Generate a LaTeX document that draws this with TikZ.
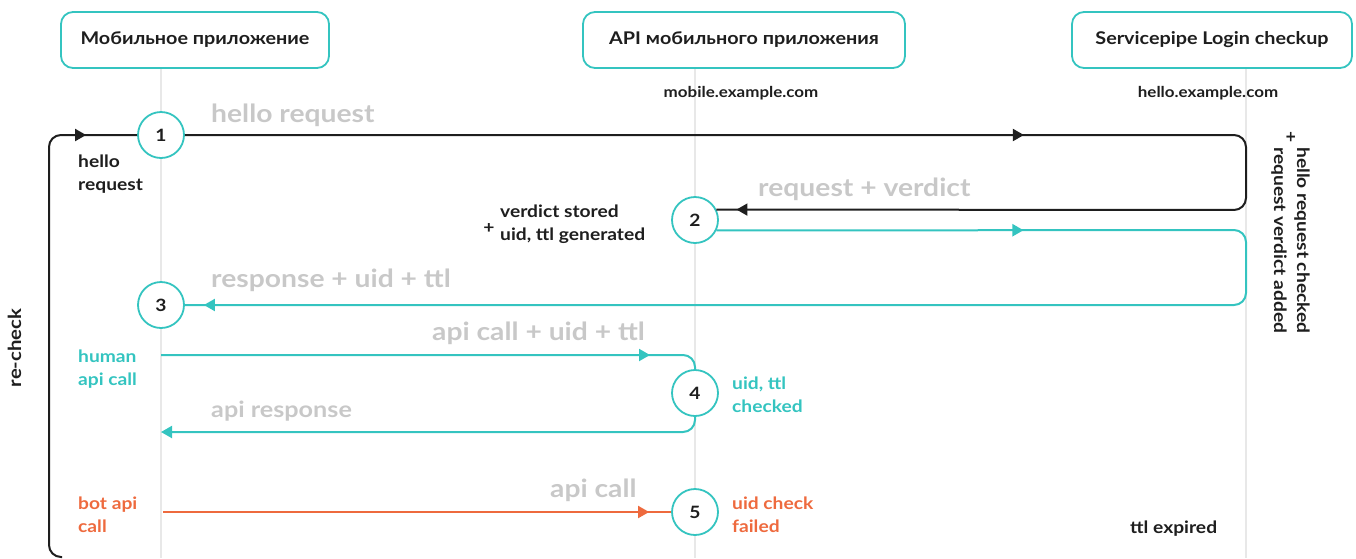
\documentclass[tikz,border=0pt]{standalone}
\usepackage{fontspec}
\setmainfont{Lato}[FakeStretch=1.13]
\usetikzlibrary{arrows.meta,decorations.markings}
\definecolor{tealc}{RGB}{52,196,192}
\definecolor{orangec}{RGB}{238,106,62}
\definecolor{labelgray}{RGB}{200,200,200}
\definecolor{inkc}{RGB}{30,30,30}
\definecolor{lifec}{RGB}{232,232,232}
\tikzset{
  box/.style={draw=tealc, line width=1.8pt, rounded corners=12pt, fill=white,
    minimum width=#1, minimum height=56pt, inner sep=0pt,
    font=\fontsize{17.5}{21}\selectfont\bfseries, text=inkc},
  num/.style={circle, draw=tealc, line width=1.8pt, fill=white,
    minimum size=46pt, inner sep=0pt, font=\fontsize{17}{20}\selectfont\bfseries, text=inkc},
  lifeline/.style={draw=lifec, line width=1.6pt},
  flow/.style={line width=2pt, rounded corners=12pt},
  tipat/.style={postaction={decorate, decoration={markings,
    mark=at position #1 with {\arrow{Triangle[length=11pt,width=12pt]}}}}},
  msg/.style={anchor=base west, inner sep=0pt, text=labelgray,
    font=\fontsize{25}{28}\selectfont\bfseries},
  note/.style={anchor=base west, inner sep=0pt, align=left,
    font=\fontsize{17}{23}\selectfont\bfseries},
  plus/.style={inner sep=0pt, anchor=base, text=inkc,
    font=\fontsize{17}{20}\selectfont\bfseries},
  host/.style={anchor=base, inner sep=0pt, text=inkc,
    font=\fontsize{15}{18}\selectfont\bfseries},
}
\begin{document}
\begin{tikzpicture}[x=1pt, y=-1pt]
\useasboundingbox (0,0) rectangle (1356,558);

% lifelines
\coordinate (l1t) at (161,68);  \coordinate (l1b) at (161,558);
\coordinate (l2t) at (695,68);  \coordinate (l2b) at (695,558);
\coordinate (l3t) at (1246,68); \coordinate (l3b) at (1246,558);
\draw[lifeline] (l1t) -- (l1b);
\draw[lifeline] (l2t) -- (l2b);
\draw[lifeline] (l3t) -- (l3b);

% participants
\node[box=268pt] (app) at (195,40) {Мобильное приложение};
\node[box=322pt] (api) at (744,40) {API мобильного приложения};
\node[box=280pt] (sp)  at (1212,40) {Servicepipe Login checkup};
\node[host] (apihost) at (741,97) {mobile.example.com};
\node[host] (sphost)  at (1208,97) {hello.example.com};

% steps
\node[num] (n1) at (161,135) {1};
\node[num] (n2) at (695,220) {2};
\node[num] (n3) at (161,305) {3};
\node[num] (n4) at (695,393) {4};
\node[num] (n5) at (695,512) {5};

% turning points of the flows
\coordinate (loopstart) at (62,557);
\coordinate (loopbl) at (49,557);
\coordinate (looptl) at (49,135);
\coordinate (r1) at (1246,135);
\coordinate (r2) at (1246,210);
\coordinate (r3) at (1246,230);
\coordinate (r4) at (1246,305);
\coordinate (h1) at (161,355);
\coordinate (h2) at (695,355);
\coordinate (h3) at (695,432);
\coordinate (h4) at (161,432);
\coordinate (b1) at (163,512);

% re-check loop and hello request
\draw[flow, inkc, tipat=-51pt] (loopstart) -- (loopbl) -- (looptl) -- (n1.west);
\draw[flow, inkc, tipat=839pt, tipat=-20pt] (n1.east) -- (r1) -- (r2) -- (n2.26);
% response with uid and ttl
\draw[flow, tealc, tipat=307pt, tipat=-19pt] (n2.-26) -- (r3) -- (r4) -- (n3.east);
% human api call
\draw[flow, tealc, tipat=489pt] (h1) -- (h2) -- (n4.north);
\draw[flow, tealc, -{Triangle[length=11pt,width=12pt]}] (n4.south) -- (h3) -- (h4);
% bot api call
\draw[flow, orangec, tipat=-22pt] (b1) -- (n5.west);

% message labels
\node[msg] at (211,122) {hello request};
\node[msg] at (758,196) {request + verdict};
\node[msg] at (211,287) {response + uid + ttl};
\node[msg] at (432,340) {api call + uid + ttl};
\node[msg, font=\fontsize{22.3}{26}\selectfont\bfseries] at (211,417) {api response};
\node[msg] at (550,497) {api call};

% notes (the base anchor sits on the last line)
\node[note, text=inkc] at (78,190) {hello\\request};
\node[note, text=inkc] (vs) at (500,240) {verdict stored\\uid, ttl generated};
\node[plus] at (489,233) {+};
\node[note, text=tealc] at (78,385) {human\\api call};
\node[note, text=orangec] at (78,532) {bot api\\call};
\node[note, text=tealc] at (732,412) {uid, ttl\\checked};
\node[note, text=orangec] at (732,532) {uid check\\failed};
\node[note, text=inkc] at (1130,533) {ttl expired};
\node[note, text=inkc, rotate=-90] at (1274,147) {hello request checked\\request verdict added};
\node[plus, rotate=-90] at (1285,137) {+};
\node[note, text=inkc, rotate=90, anchor=base, font=\fontsize{18}{22}\selectfont\bfseries] at (21,348) {re-check};
\end{tikzpicture}
\end{document}
